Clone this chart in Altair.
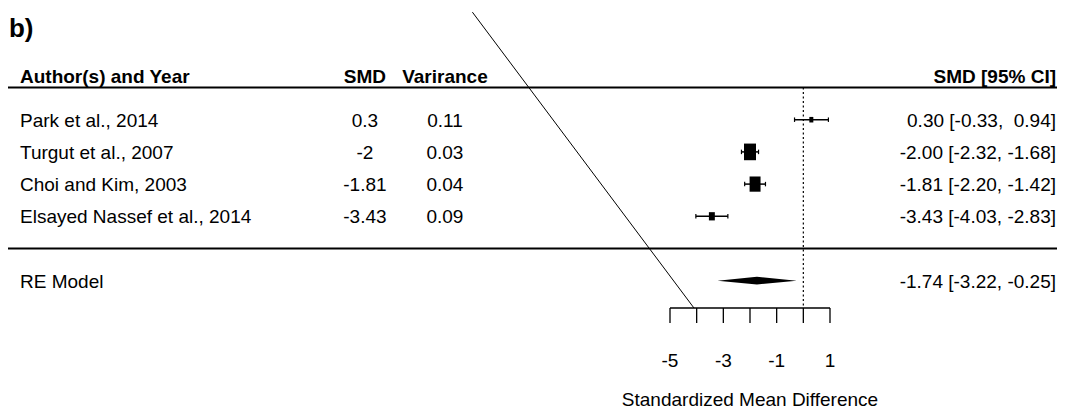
import altair as alt
import pandas as pd

# ---------------- data ----------------
authors = ["Park et al., 2014", "Turgut et al., 2007", "Choi and Kim, 2003",
           "Elsayed Nassef et al., 2014"]
smd = [0.30, -2.00, -1.81, -3.43]
smd_labels = ["0.3", "-2", "-1.81", "-3.43"]
variance = [0.11, 0.03, 0.04, 0.09]
var_labels = ["0.11", "0.03", "0.04", "0.09"]
ci_lower = [-0.33, -2.32, -2.20, -4.03]
ci_upper = [0.94, -1.68, -1.42, -2.83]
study_rows = [4, 3, 2, 1]

re_label = "RE Model"
re_est = -1.74
re_lower = -3.22
re_upper = -0.25
re_row = -1
tau2 = 2.23  # between-study variance (estimated)

axis_ticks = [-5, -4, -3, -2, -1, 0, 1]
axis_tick_labels = [-5, -3, -1, 1]
axis_title = "Standardized Mean Difference"
panel_label = "b)"
header_texts = ["Author(s) and Year", "SMD", "Varirance", "SMD [95% CI]"]

# hand-drawn diagonal stroke over the figure (data units)
diag_x = [-12.41, -4.10]
diag_y = [7.34, -1.85]

# ---------------- layout ----------------
W, H = 1049, 403
X_DOMAIN = [-29.825, 9.5125]
Y_DOMAIN = [-5.047, 7.469]
XLIM = [-29.86, 9.7]
LABEL_X, SMD_X, VAR_X, CI_X = -29.375, -16.44, -13.44, 9.475
HEADER_R = 5.13
HLINE_R = [5, 0]
AXIS_R = -1.848
TICK_END_R = -2.314
TICKLAB_R = -3.689
TITLE_R = -4.907
PANEL_R = 6.568
PANEL_X = -29.79
FONT = "Liberation Sans, Arial, sans-serif"
FS = 19
ROW_DY = 7
DIAMOND_H = 0.12
BOX_K = 11.1
CAP_H = 4.5
RECT_PATH = "M-0.72,-1L0.72,-1L0.72,1L-0.72,1Z"

xs = alt.Scale(domain=X_DOMAIN, nice=False, zero=False)
ys = alt.Scale(domain=Y_DOMAIN, nice=False, zero=False)


def X(f):
    return alt.X(f, type="quantitative", scale=xs, axis=None)


def Y(f):
    return alt.Y(f, type="quantitative", scale=ys, axis=None)


def XD(v):
    return alt.XDatum(v, type="quantitative", scale=xs, axis=None)


def YD(v):
    return alt.YDatum(v, type="quantitative", scale=ys, axis=None)


def fmt_num(v):
    return f"{v:5.2f}".replace(" ", "\u00a0")


# ---------------- tables ----------------
df = pd.DataFrame({
    "author": authors, "smd": smd, "smd_label": smd_labels, "vi": variance,
    "var_label": var_labels, "lb": ci_lower, "ub": ci_upper, "row": study_rows,
})
w = 1.0 / (df["vi"] + tau2)
df["psize"] = 0.5 + (w - w.min()) / (w.max() - w.min())
df["ci_text"] = [f"{e:.2f} [{fmt_num(l)}, {fmt_num(u)}]"
                 for e, l, u in zip(df.smd, df.lb, df.ub)]

re_df = pd.DataFrame({
    "author": [re_label], "row": [re_row],
    "ci_text": [f"{re_est:.2f} [{fmt_num(re_lower)}, {fmt_num(re_upper)}]"],
})
diamond = pd.DataFrame({
    "x": [re_lower, re_est, re_upper],
    "y": [re_row, re_row - DIAMOND_H, re_row],
    "y2": [re_row, re_row + DIAMOND_H, re_row],
})
caps = pd.DataFrame({
    "x": list(df.lb) + list(df.ub),
    "row": list(df.row) * 2,
})
one = pd.DataFrame({"a": [0]})
hl = pd.DataFrame({"y": HLINE_R})
ticks = pd.DataFrame({"v": axis_ticks})
ticklabs = pd.DataFrame({"v": axis_tick_labels, "t": [str(v) for v in axis_tick_labels]})
diag = pd.DataFrame({"x": diag_x, "y": diag_y, "o": [0, 1]})


def text_layer(data, field, xval, align, yfield="row", dy=ROW_DY, bold=False, size=FS, font=FONT):
    return alt.Chart(data).mark_text(
        align=align, baseline="alphabetic", dy=dy, font=font, fontSize=size,
        fontWeight="bold" if bold else "normal", color="black"
    ).encode(x=XD(xval), y=Y(yfield), text=alt.Text(field, type="nominal"))


def header(text, xval, align):
    d = pd.DataFrame({"t": [text], "y": [HEADER_R]})
    return text_layer(d, "t", xval, align, yfield="y", dy=0, bold=True)


layers = []
# horizontal rules
layers.append(alt.Chart(hl).mark_rule(color="black", strokeWidth=1.8).encode(
    x=XD(XLIM[0]), x2=alt.X2Datum(XLIM[1]), y=Y("y")))
# reference line at 0
layers.append(alt.Chart(one).mark_rule(color="black", strokeWidth=1.2, strokeDash=[2, 2.5]).encode(
    x=XD(0), y=YD(HLINE_R[0]), y2=alt.Y2Datum(AXIS_R)))
# CI lines
layers.append(alt.Chart(df).mark_rule(color="black", strokeWidth=1.5).encode(
    x=X("lb"), x2=alt.X2("ub"), y=Y("row")))
layers.append(alt.Chart(caps).mark_point(shape="M0,-1L0,1", filled=False, color="black",
                                         strokeWidth=1.2, opacity=1, size=CAP_H ** 2).encode(
    x=X("x"), y=Y("row")))
# boxes
layers.append(alt.Chart(df).mark_point(shape=RECT_PATH, filled=True, color="black",
                                       opacity=1, strokeWidth=0).encode(
    x=X("smd"), y=Y("row"),
    size=alt.Size("psize", type="quantitative", legend=None,
                  scale=alt.Scale(type="pow", exponent=2, zero=False, domain=[0.5, 1.5],
                                  range=[(BOX_K * 0.5) ** 2, (BOX_K * 1.5) ** 2]))))
# diamond
layers.append(alt.Chart(diamond).mark_area(color="black", opacity=1).encode(
    x=X("x"), y=Y("y"), y2=alt.Y2("y2")))
# axis
layers.append(alt.Chart(one).mark_rule(color="black", strokeWidth=1.3).encode(
    x=XD(axis_ticks[0]), x2=alt.X2Datum(axis_ticks[-1]), y=YD(AXIS_R)))
layers.append(alt.Chart(ticks).mark_rule(color="black", strokeWidth=1.3).encode(
    x=X("v"), y=YD(AXIS_R), y2=alt.Y2Datum(TICK_END_R)))
layers.append(alt.Chart(ticklabs).mark_text(font=FONT, fontSize=FS, color="black",
                                            baseline="alphabetic", align="center").encode(
    x=X("v"), y=YD(TICKLAB_R), text="t:N"))
tdf = pd.DataFrame({"t": [axis_title], "y": [TITLE_R],
                    "x": [(axis_ticks[0] + axis_ticks[-1]) / 2]})
layers.append(alt.Chart(tdf).mark_text(font=FONT, fontSize=FS, color="black",
                                       baseline="alphabetic", align="center").encode(
    x=X("x"), y=Y("y"), text="t:N"))
# diagonal stroke
layers.append(alt.Chart(diag).mark_line(color="black", strokeWidth=1).encode(
    x=X("x"), y=Y("y"), order="o:O"))
# text columns
layers.append(text_layer(df, "author", LABEL_X, "left"))
layers.append(text_layer(df, "smd_label", SMD_X, "center"))
layers.append(text_layer(df, "var_label", VAR_X, "center"))
layers.append(text_layer(df, "ci_text", CI_X, "right"))
layers.append(text_layer(re_df, "author", LABEL_X, "left"))
layers.append(text_layer(re_df, "ci_text", CI_X, "right"))
# headers
layers.append(header(header_texts[0], LABEL_X, "left"))
layers.append(header(header_texts[1], SMD_X, "center"))
layers.append(header(header_texts[2], VAR_X, "center"))
layers.append(header(header_texts[3], CI_X, "right"))
# panel label
pdf = pd.DataFrame({"t": [panel_label], "y": [PANEL_R]})
layers.append(text_layer(pdf, "t", PANEL_X, "left", yfield="y", dy=0, bold=True, size=26))

chart = alt.layer(*layers).properties(
    width=W, height=H, padding=0, autosize=alt.AutoSizeParams(type="none")
).configure_view(strokeWidth=0)

chart.save("out.html", embed_options={"renderer": "svg", "actions": False})
